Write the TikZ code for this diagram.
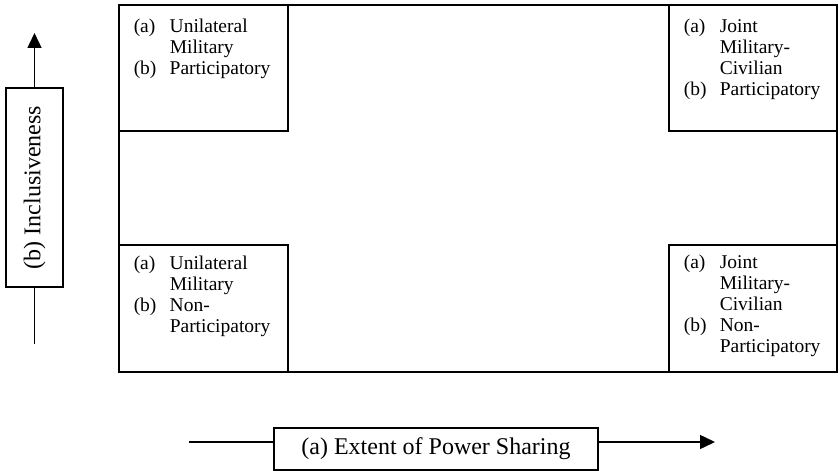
\documentclass[tikz,border=0pt]{standalone}
\usepackage{fontspec}
\setmainfont{Liberation Serif}
\usetikzlibrary{arrows.meta}
\newcommand{\cellfont}{\fontsize{19.5}{21}\selectfont}
\newcommand{\cellrows}[4]{\begin{tabular}[t]{@{}p{36pt}@{}l@{}}(a)&#1\\&#2\\#3(b)&#4\end{tabular}}
\begin{document}
\begin{tikzpicture}[x=1pt,y=1pt,line width=1.5pt,
		cell/.style={anchor=base west,inner sep=0pt,font=\cellfont},
		axisbox/.style={draw,inner sep=0pt,font=\fontsize{24}{27}\selectfont},
		axisarrow/.style={-{Triangle[length=15pt,width=14pt]}}]
		\useasboundingbox (0,0) rectangle (838,472);
		
		% frame and the four corner boxes
		\draw (119,100) rectangle (837,467);
		\draw (119,467) rectangle (288,341);
		\draw (669,467) rectangle (837,341);
		\draw (119,227) rectangle (288,100);
		\draw (669,227) rectangle (837,100);
		
		\node[cell] (ul) at (133,439) {\cellrows{Unilateral}{Military}{}{Participatory}};
		\node[cell] (ur) at (683,439) {\cellrows{Joint}{Military-}{&Civilian\\}{Participatory}};
		\node[cell] (ll) at (133,203) {\cellrows{Unilateral}{Military}{}{Non-\\&Participatory}};
		\node[cell] (lr) at (683,204) {\cellrows{Joint}{Military-}{&Civilian\\}{Non-\\&Participatory}};
		
		% vertical axis
		\node[axisbox,rotate=90,minimum width=199pt,minimum height=57pt] (incl) at (34.5,284.5) {(b) Inclusiveness};
		\coordinate (inclstart) at (34.5,128);
		\coordinate (incltip) at (34.5,439);
		\draw (inclstart) -- (incl.west);
		\draw[axisarrow] (incl.east) -- (incltip);
		
		% horizontal axis
		\node[axisbox,minimum width=324pt,minimum height=42pt] (power) at (436,23) {(a) Extent of Power Sharing};
		\coordinate (powerstart) at (189,30);
		\coordinate (powertip) at (715,30);
		\draw (powerstart) -- (powerstart -| power.west);
		\draw[axisarrow] (powerstart -| power.east) -- (powertip);
	\end{tikzpicture}
\end{document}
